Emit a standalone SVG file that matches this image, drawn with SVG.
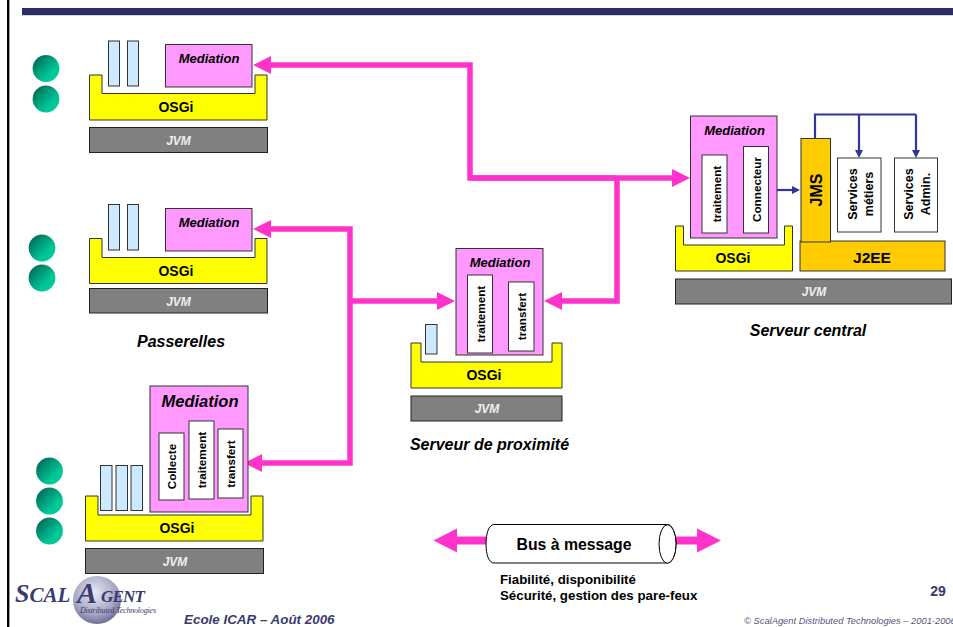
<svg xmlns="http://www.w3.org/2000/svg" width="953" height="627" viewBox="0 0 953 627">
<style>
text{font-family:"Liberation Sans",Arial,sans-serif;font-weight:bold;fill:#000;text-anchor:middle}
.logo{font-family:"Liberation Serif",serif;font-style:italic;text-anchor:start;fill:#3a3a70}
.med{fill:#ff99ff;stroke:#333;stroke-width:1}
.bar{fill:#cce9ff;stroke:#333;stroke-width:1}
.osgi{fill:#ffff00;stroke:#333;stroke-width:1}
.jvm{fill:#808080;stroke:#222;stroke-width:1}
.white{fill:#fff;stroke:#333;stroke-width:1}
.gold{fill:#ffcc00;stroke:#333;stroke-width:1}
.ball{fill:url(#g)}
.tm{font-size:13px;font-style:italic}
.to{font-size:14px}
.tj{font-size:12px;font-style:italic;fill:#eee}
.tv{font-size:11.700px}
.tw{font-size:12.500px}
.cap{font-size:16px;font-style:italic}
.pink{fill:none;stroke:#ff33cc;stroke-width:5.500}
.blue{fill:none;stroke:#333399;stroke-width:2.200}
</style>
<defs>
<linearGradient id="g" x1="0.1" y1="0.1" x2="0.85" y2="0.85"><stop offset="0" stop-color="#006b58"/><stop offset="0.75" stop-color="#00c496"/><stop offset="1" stop-color="#00cc99"/></linearGradient>
<radialGradient id="s" cx="0.45" cy="0.35" r="0.75"><stop offset="0" stop-color="#e8e8f2"/><stop offset="0.6" stop-color="#a5a5c4"/><stop offset="1" stop-color="#55557f"/></radialGradient>
<marker id="ap" markerUnits="userSpaceOnUse" markerWidth="18" markerHeight="18" refX="1" refY="9" orient="auto"><path d="M0 0L18 9L0 18Z" fill="#ff33cc"/></marker>
<marker id="ab" markerUnits="userSpaceOnUse" markerWidth="8" markerHeight="8" refX="1" refY="4" orient="auto"><path d="M0 0L8 4L0 8Z" fill="#333399"/></marker>
</defs>
<rect width="953" height="627" fill="#fff"/>
<rect x="7" y="0" width="2.400" height="627" fill="#000"/>
<rect x="22" y="8" width="931" height="7.500" fill="#2e2e66"/>
<rect x="22" y="15" width="931" height="1" fill="#d8d8c8"/>

<g id="connectors">
<path class="pink" marker-end="url(#ap)" d="M617 178H470V65H270"/>
<path class="pink" marker-end="url(#ap)" d="M470 178H673"/>
<path class="pink" marker-end="url(#ap)" d="M617 178V301H561"/>
<path class="pink" marker-end="url(#ap)" d="M350 301H438"/>
<path class="pink" marker-end="url(#ap)" d="M350 301V229H270"/>
<path class="pink" marker-end="url(#ap)" d="M350 301V463H261"/>
<path class="blue" marker-end="url(#ab)" d="M769 190H793"/>
<path class="blue" d="M815 138V114.500H916"/>
<path class="blue" marker-end="url(#ab)" d="M859 114.500V151"/>
<path class="blue" marker-end="url(#ab)" d="M916 114.500V151"/>
</g>

<g id="passerelle-1">
<circle class="ball" cx="46" cy="68.500" r="13.400"/><circle class="ball" cx="46" cy="99" r="13.400"/>
<path class="osgi" d="M89.500 75H102V93.500H255V75H267V120H89.500Z"/>
<rect class="bar" x="108.500" y="41" width="11" height="45"/><rect class="bar" x="127.500" y="41" width="11" height="45"/>
<rect class="med" x="165.500" y="44.500" width="86.500" height="42.500"/>
<text class="tm" x="209" y="63">Mediation</text>
<text class="to" x="176" y="112">OSGi</text>
<rect class="jvm" x="89.500" y="127.500" width="178" height="25"/>
<text class="tj" x="178.500" y="145">JVM</text>
</g>

<g id="passerelle-2">
<circle class="ball" cx="42" cy="248" r="13.400"/><circle class="ball" cx="42" cy="278" r="13.400"/>
<path class="osgi" d="M89.500 238.500H102V257.500H255V238.500H267V283.500H89.500Z"/>
<rect class="bar" x="108.500" y="204.500" width="11" height="45.500"/><rect class="bar" x="127.500" y="204.500" width="11" height="45.500"/>
<rect class="med" x="165.500" y="208.500" width="86.500" height="42.500"/>
<text class="tm" x="209" y="227">Mediation</text>
<text class="to" x="176" y="276">OSGi</text>
<rect class="jvm" x="89.500" y="288.500" width="178" height="24.500"/>
<text class="tj" x="178.500" y="305.500">JVM</text>
<text class="cap" x="181" y="347">Passerelles</text>
</g>

<g id="passerelle-3">
<circle class="ball" cx="49.500" cy="471" r="13.400"/><circle class="ball" cx="49.500" cy="501" r="13.400"/><circle class="ball" cx="49.500" cy="531" r="13.400"/>
<path class="osgi" d="M85.500 496H98V515H251V496H263V541H85.500Z"/>
<rect class="bar" x="100.500" y="465.500" width="11.500" height="45"/><rect class="bar" x="116" y="465.500" width="11.500" height="45"/><rect class="bar" x="131" y="465.500" width="11.500" height="45"/>
<rect class="med" x="150" y="386" width="98" height="126"/>
<text x="200" y="407" style="font-size:16.500px;font-style:italic">Mediation</text>
<rect class="white" x="159" y="433" width="25" height="67"/>
<rect class="white" x="189" y="421" width="25" height="78"/>
<rect class="white" x="218" y="429" width="25" height="69"/>
<text class="tv" transform="translate(176,466.500) rotate(-90)">Collecte</text>
<text class="tv" transform="translate(206,460) rotate(-90)">traitement</text>
<text class="tv" transform="translate(235,464) rotate(-90)">transfert</text>
<text class="to" x="177" y="533">OSGi</text>
<rect class="jvm" x="85.500" y="548.500" width="178" height="25"/>
<text class="tj" x="175" y="566">JVM</text>
</g>

<g id="serveur-proximite">
<path class="osgi" d="M411 343H421V362H552V343H562V388H411Z"/>
<rect class="bar" x="425.500" y="324.500" width="11.500" height="29.500"/>
<rect class="med" x="456" y="248.500" width="87" height="106.500"/>
<text class="tm" x="500" y="267">Mediation</text>
<rect class="white" x="467.500" y="275" width="25" height="78"/>
<rect class="white" x="508.500" y="282" width="25.500" height="69"/>
<text class="tv" transform="translate(485,314) rotate(-90)">traitement</text>
<text class="tv" transform="translate(526,316.500) rotate(-90)">transfert</text>
<text class="to" x="484" y="380">OSGi</text>
<rect class="jvm" x="411" y="396" width="151" height="25"/>
<text class="tj" x="487" y="413">JVM</text>
<text class="cap" x="489.500" y="450">Serveur de proximité</text>
</g>

<g id="serveur-central">
<path class="osgi" d="M675.500 226H683.500V245H784.500V226H792.500V271H675.500Z"/>
<rect class="med" x="690.500" y="116" width="86.500" height="122"/>
<text class="tm" x="734.500" y="135">Mediation</text>
<rect class="white" x="702" y="155" width="25" height="78"/>
<rect class="white" x="743.500" y="146.500" width="25" height="86.500"/>
<text class="tv" transform="translate(720.500,194) rotate(-90)">traitement</text>
<text class="tv" transform="translate(760.500,189.500) rotate(-90)">Connecteur</text>
<text class="to" x="733" y="263">OSGi</text>
<rect class="gold" x="800" y="241" width="145" height="30"/>
<rect x="801" y="138.500" width="29.500" height="103.500" fill="#ffcc00" stroke="#333"/>
<text transform="translate(821.500,190) rotate(-90)" style="font-size:16px">JMS</text>
<text x="872" y="263" style="font-size:15.500px">J2EE</text>
<rect class="white" x="837.500" y="158" width="43.500" height="74"/>
<rect class="white" x="894.500" y="158" width="43" height="74"/>
<text class="tw" transform="translate(856.500,194) rotate(-90)">Services</text>
<text class="tw" transform="translate(873,194) rotate(-90)">métiers</text>
<text class="tw" transform="translate(913,194) rotate(-90)">Services</text>
<text class="tw" transform="translate(929.500,194) rotate(-90)">Admin.</text>
<rect class="jvm" x="675.500" y="279" width="276" height="25"/>
<text class="tj" x="814" y="296">JVM</text>
<text class="cap" x="808" y="336">Serveur central</text>
</g>

<g id="bus">
<path d="M488 536.500H457V528.500L433.500 540.500L457 552.500V544.500H488Z M672 536.500H697V528.500L721 540.500L697 552.500V544.500H672Z" fill="#ff33cc"/>
<path d="M494 524.500H667.500C672 524.500 676 533 676 544C676 555 672 563 667.500 563H494C489 563 486 555 486 544C486 533 489 524.500 494 524.500Z" fill="#fff" stroke="#000"/>
<ellipse cx="667.500" cy="544" rx="8.500" ry="19.300" fill="#fff" stroke="#000"/>
<text x="574" y="549.500" style="font-size:15.800px">Bus à message</text>
<text x="500" y="584" style="font-size:13.300px;text-anchor:start">Fiabilité, disponibilité</text>
<text x="500" y="600" style="font-size:13.300px;text-anchor:start">Sécurité, gestion des pare-feux</text>
</g>

<g id="footer">
<circle cx="97" cy="600" r="24" fill="url(#s)"/>
<text class="logo" x="15" y="602"><tspan style="font-size:26px">S</tspan><tspan style="font-size:21px">CAL</tspan></text>
<text class="logo" x="77" y="603" style="font-size:30px">A</text>
<text class="logo" x="101" y="602" style="font-size:17px" textLength="44">GENT</text>
<text class="logo" x="80" y="613" style="font-size:8px;font-weight:normal" textLength="76">Distributed Technologies</text>
<text x="184" y="624" style="font-size:13.400px;font-style:italic;text-anchor:start;fill:#3a3a70">Ecole ICAR – Août 2006</text>
<text x="938" y="596" style="font-size:14px;fill:#3a3a70">29</text>
<text x="744" y="623.500" style="font-size:9.350px;font-style:italic;font-weight:normal;text-anchor:start;fill:#555580">© ScalAgent Distributed Technologies – 2001-2006</text>
</g>
</svg>
